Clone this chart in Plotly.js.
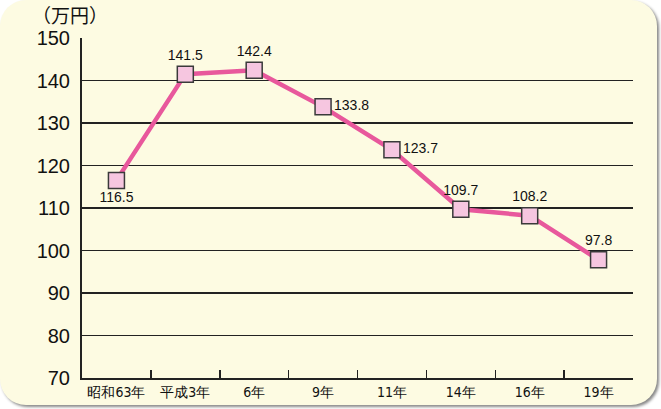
<!DOCTYPE html>
<html><head><meta charset="utf-8">
<script src="https://cdn.plot.ly/plotly-3.0.1.min.js"></script>
<style>
html,body{margin:0;padding:0;background:#ffffff;}
#wrap{position:absolute;left:0;top:0;width:657px;height:405px;border-radius:26px;background:#fdfbe2;box-shadow:2px 2px 3px #888;overflow:hidden;}
#chart{width:657px;height:405px;}
</style></head>
<body><div id="wrap"><div id="chart"></div></div>
<script>
const categories = ["昭和63年","平成3年","6年","9年","11年","14年","16年","19年"];
const values = [116.5,141.5,142.4,133.8,123.7,109.7,108.2,97.8];
const labelPos = ["bottom center","top center","top center","middle right","middle right","top center","top center","top center"];
const labels = values.map(v=>v.toFixed(1));

const trace = {
  x: categories, y: values, type:"scatter", mode:"lines+markers+text",
  line:{color:"#e8589c", width:4.5},
  marker:{symbol:"square", size:16, color:"#f6c6e0", line:{color:"#3a3a3a", width:1.5}},
  text: labels, textposition: labelPos,
  textfont:{family:"Liberation Sans, Arial, sans-serif", size:14, color:"#111"},
  cliponaxis:false, hoverinfo:"none"
};
const layout = {
  width:657, height:405,
  margin:{l:82, r:24, t:38, b:27},
  paper_bgcolor:"rgba(0,0,0,0)", plot_bgcolor:"rgba(0,0,0,0)",
  showlegend:false,
  xaxis:{type:"category", range:[-0.5,7.5], showgrid:false, zeroline:false,
    showline:true, linecolor:"#222", linewidth:2,
    ticks:"inside", tickson:"boundaries", ticklen:8, tickcolor:"#222", tickwidth:1.5,
    tickfont:{family:"Liberation Sans Narrow, DejaVu Sans Condensed, sans-serif", size:14, color:"#111"}},
  yaxis:{range:[70,150], dtick:10, showgrid:true, gridcolor:"#222", gridwidth:1.2,
    zeroline:false, showline:true, linecolor:"#222", linewidth:2, ticks:"",
    ticklabelstandoff:6,
    tickfont:{family:"Liberation Sans, Arial, sans-serif", size:20, color:"#111"}},
  annotations:[{text:"（万円）", xref:"paper", yref:"paper", x:-0.095, y:1.025, xanchor:"left", yanchor:"bottom",
    showarrow:false, font:{family:"Noto Sans CJK JP, sans-serif", size:19, color:"#111"}}]
};
Plotly.newPlot("chart",[trace],layout,{displayModeBar:false,staticPlot:true});
</script></body></html>
